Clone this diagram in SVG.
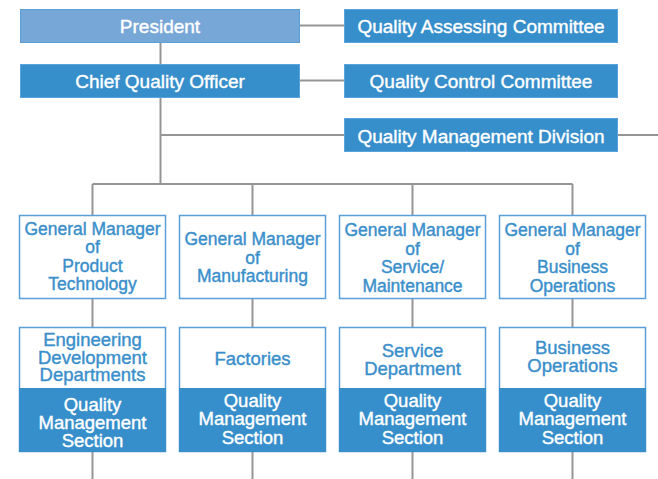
<svg xmlns="http://www.w3.org/2000/svg" width="658" height="479" viewBox="0 0 658 479">
<style>
.bg{fill:#ffffff}
.dk{fill:#368ecb;stroke:#5aa3dc;stroke-width:1}
.lt{fill:#77a7d7;stroke:#5b9fd9;stroke-width:1}
.wb{fill:#ffffff;stroke:#5a9fd8;stroke-width:1.5}
.bs{fill:#368ecb}
.ln{fill:none;stroke:#959595;stroke-width:2}
text{font-family:"Liberation Sans",Arial,Helvetica,sans-serif;text-anchor:middle;stroke-width:0.4}
.tw{fill:#ffffff;stroke:#ffffff;font-size:19px}
.gm{fill:#3a8fcb;stroke:#3a8fcb;font-size:17.5px}
.lb{fill:#3a8fcb;stroke:#3a8fcb;font-size:18.5px}
.lw{fill:#ffffff;stroke:#ffffff;font-size:18.5px}
</style>
<rect class="bg" x="0" y="0" width="658" height="479"/>
<g id="connectors">
<path class="ln" d="M160.5 43 V64 M160.5 98 V184 M300 25.5 H344 M300 80.5 H344 M160.5 135 H344 M618 135 H658 M92.5 184 H572.5 M92.5 184 V215 M252.5 184 V215 M412.5 184 V215 M572.5 184 V215 M92.5 299 V327 M252.5 299 V327 M412.5 299 V327 M572.5 299 V327 M92.5 452 V479 M252.5 452 V479 M412.5 452 V479 M572.5 452 V479"/>
</g>
<g id="president">
<rect class="lt" x="20.5" y="9.5" width="279" height="33"/>
<text class="tw" x="160" y="33">President</text>
</g>
<g id="cqo">
<rect class="dk" x="20.5" y="64.5" width="279" height="33"/>
<text class="tw" x="160" y="88">Chief Quality Officer</text>
</g>
<g id="qac">
<rect class="dk" x="344.5" y="9.5" width="273" height="33"/>
<text class="tw" x="481" y="33">Quality Assessing Committee</text>
</g>
<g id="qcc">
<rect class="dk" x="344.5" y="64.5" width="273" height="33"/>
<text class="tw" x="481" y="88">Quality Control Committee</text>
</g>
<g id="qmd">
<rect class="dk" x="344.5" y="118.5" width="273" height="33"/>
<text class="tw" x="481" y="142.5">Quality Management Division</text>
</g>
<g id="gm1">
<rect class="wb" x="19.5" y="215.5" width="146" height="83"/>
<text class="gm" x="92.5" y="234.5">General Manager</text>
<text class="gm" x="92.5" y="253">of</text>
<text class="gm" x="92.5" y="271.5">Product</text>
<text class="gm" x="92.5" y="290">Technology</text>
</g>
<g id="gm2">
<rect class="wb" x="179.5" y="215.5" width="146" height="83"/>
<text class="gm" x="252.5" y="245">General Manager</text>
<text class="gm" x="252.5" y="263.5">of</text>
<text class="gm" x="252.5" y="282">Manufacturing</text>
</g>
<g id="gm3">
<rect class="wb" x="339.5" y="215.5" width="146" height="83"/>
<text class="gm" x="412.5" y="236">General Manager</text>
<text class="gm" x="412.5" y="254.5">of</text>
<text class="gm" x="412.5" y="273">Service/</text>
<text class="gm" x="412.5" y="291.5">Maintenance</text>
</g>
<g id="gm4">
<rect class="wb" x="499.5" y="215.5" width="146" height="83"/>
<text class="gm" x="572.5" y="236">General Manager</text>
<text class="gm" x="572.5" y="254.5">of</text>
<text class="gm" x="572.5" y="273">Business</text>
<text class="gm" x="572.5" y="291.5">Operations</text>
</g>
<g id="dept1">
<rect class="wb" x="19.5" y="327.5" width="146" height="124"/>
<rect class="bs" x="19" y="388" width="147" height="64"/>
<text class="lb" x="92.5" y="346">Engineering</text>
<text class="lb" x="92.5" y="363.5">Development</text>
<text class="lb" x="92.5" y="381">Departments</text>
<text class="lw" x="92.5" y="410.5">Quality</text>
<text class="lw" x="92.5" y="428.5">Management</text>
<text class="lw" x="92.5" y="446.5">Section</text>
</g>
<g id="dept2">
<rect class="wb" x="179.5" y="327.5" width="146" height="124"/>
<rect class="bs" x="179" y="388" width="147" height="64"/>
<text class="lb" x="252.5" y="365">Factories</text>
<text class="lw" x="252.5" y="407">Quality</text>
<text class="lw" x="252.5" y="425">Management</text>
<text class="lw" x="252.5" y="443.5">Section</text>
</g>
<g id="dept3">
<rect class="wb" x="339.5" y="327.5" width="146" height="124"/>
<rect class="bs" x="339" y="388" width="147" height="64"/>
<text class="lb" x="412.5" y="357">Service</text>
<text class="lb" x="412.5" y="375">Department</text>
<text class="lw" x="412.5" y="407">Quality</text>
<text class="lw" x="412.5" y="425">Management</text>
<text class="lw" x="412.5" y="443.5">Section</text>
</g>
<g id="dept4">
<rect class="wb" x="499.5" y="327.5" width="146" height="124"/>
<rect class="bs" x="499" y="388" width="147" height="64"/>
<text class="lb" x="572.5" y="354">Business</text>
<text class="lb" x="572.5" y="372">Operations</text>
<text class="lw" x="572.5" y="407">Quality</text>
<text class="lw" x="572.5" y="425">Management</text>
<text class="lw" x="572.5" y="443.5">Section</text>
</g>
</svg>
